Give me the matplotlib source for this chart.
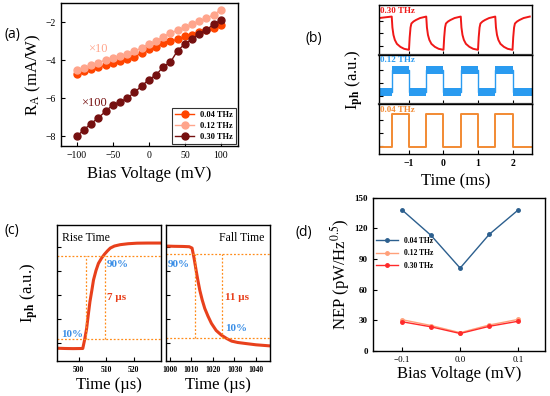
import numpy as np
import matplotlib
matplotlib.use("Agg")
import matplotlib.pyplot as plt

plt.rcParams["font.family"] = ["Liberation Serif", "DejaVu Serif"]
plt.rcParams["mathtext.fontset"] = "stix"

# ---- (a) responsivity vs bias ----
bias_a = [-100, -90, -80, -70, -60, -50, -40, -30, -20, -10, 0,
          10, 20, 30, 40, 50, 60, 70, 80, 90, 100]
ra_004 = [-4.72, -4.58, -4.47, -4.37, -4.26, -4.15, -4.06, -3.96, -3.85, -3.6, -3.42,
          -3.3, -3.08, -3.0, -2.9, -2.75, -2.65, -2.52, -2.42, -2.3, -2.16]
ra_012 = [-4.52, -4.4, -4.27, -4.13, -3.98, -3.87, -3.77, -3.66, -3.52, -3.36, -3.14,
          -3.0, -2.76, -2.57, -2.42, -2.26, -2.11, -1.96, -1.8, -1.6, -1.35]
ra_030 = [-8.0, -7.65, -7.33, -7.02, -6.69, -6.34, -6.2, -5.99, -5.69, -5.36, -5.02,
          -4.78, -4.34, -4.1, -3.49, -3.15, -2.89, -2.6, -2.42, -2.09, -1.91]
freq_labels = ["0.04 THz", "0.12 THz", "0.30 THz"]

# ---- (b) time traces (normalized) ----
b_rise_times = [-1.5, -0.5, 0.5, 1.5]
b_fall_times = [-1.0, 0.0, 1.0, 2.0]
b012_levels = [0.25, 0.70]
b004_levels = [0.14, 0.80]
# one slow period of the 0.30 THz trace
red_fall_dt = [0.0, 0.02, 0.05, 0.09, 0.15, 0.25, 0.36, 0.5]
red_fall_y = [0.77, 0.55, 0.4, 0.3, 0.22, 0.16, 0.12, 0.1]
red_rise_dt = [0.0, 0.02, 0.045, 0.07, 0.13, 0.2, 0.32, 0.5]
red_rise_y = [0.1, 0.35, 0.55, 0.63, 0.67, 0.7, 0.74, 0.77]
red_fall_times = [-1.5, -0.5, 0.5, 1.5]

# ---- (c) rise / fall ----
rise_t = [492, 495, 498, 501.5, 502.2, 502.9, 503.5, 504.1, 504.8, 505.4, 506.3,
          507.2, 508.3, 509.4, 510.5, 511.5, 513, 515.1, 518, 521.2, 525, 530]
rise_y = [0.095, 0.093, 0.092, 0.093, 0.16, 0.24, 0.34, 0.436, 0.52, 0.596, 0.665,
          0.718, 0.755, 0.785, 0.81, 0.83, 0.845, 0.855, 0.862, 0.866, 0.867, 0.867]
fall_t = [998, 1002, 1006, 1009, 1010.3, 1011.3, 1012.3, 1013.1, 1013.9, 1015,
          1016.2, 1017.7, 1019.3, 1021.5, 1024, 1026.5, 1028.7, 1031.5, 1034.9, 1040, 1046.5]
fall_y = [0.845, 0.843, 0.842, 0.84, 0.83, 0.75, 0.656, 0.585, 0.52, 0.45,
          0.387, 0.33, 0.277, 0.225, 0.19, 0.165, 0.147, 0.137, 0.13, 0.12, 0.112]
rise_marks = [502.6, 509.4]
fall_marks = [1011.5, 1024.0]
rise_levels = [0.162, 0.775]
fall_levels = [0.171, 0.785]

# ---- (d) NEP ----
bias_d = [-0.1, -0.05, 0.0, 0.05, 0.1]
nep_004 = [138, 113, 81, 114, 138]
nep_012 = [30.5, 24.8, 17.8, 25.3, 30.8]
nep_030 = [28.5, 23.5, 17.0, 24.0, 29.0]

fig = plt.figure(figsize=(5.5, 3.96), dpi=100)


def style(ax, size=7, bold=False):
    ax.tick_params(direction="in", labelsize=size, length=3, width=0.8)
    for s in ax.spines.values():
        s.set_linewidth(1.0)
    if bold:
        for lab in ax.get_xticklabels() + ax.get_yticklabels():
            lab.set_fontweight("bold")


# (a)
ax = fig.add_axes([0.111, 0.631, 0.322, 0.361])
c_a = ["#FF4500", "#FFA58C", "#751010"]
for y, c, lab in zip([ra_004, ra_012, ra_030], c_a, freq_labels):
    ax.plot(bias_a, y, "-o", color=c, ms=5, lw=1.0, label=lab)
ax.set_xlim(-122, 124)
ax.set_ylim(-8.52, -1.0)
ax.set_xticks([-100, -50, 0, 50, 100])
ax.set_yticks([-8, -6, -4, -2])
ax.set_xlabel("Bias Voltage (mV)", fontsize=12, labelpad=4)
ax.set_ylabel(r"R$_\mathregular{A}$ (mA/W)", fontsize=12, labelpad=2)
ax.text(-84, -3.4, "×10", color="#FFA58C", fontsize=9, va="center")
ax.text(-94, -6.25, "×100", color="#751010", fontsize=9, va="center")
leg = ax.legend(loc="lower right", prop={"weight": "bold", "size": 6},
                frameon=True, fancybox=False, edgecolor="black", handlelength=2.2,
                borderpad=0.4, labelspacing=0.35, borderaxespad=0.2)
leg.get_frame().set_linewidth(0.8)
style(ax, 7)

# (b)
b_h = (0.987 - 0.611) / 3
bx = [fig.add_axes([0.689, 0.611 + (2 - i) * b_h, 0.278, b_h]) for i in range(3)]
xl = (-1.87, 2.56)


def square(levels):
    xs, ys = [xl[0]], [levels[0]]
    for r, f in zip(b_rise_times, b_fall_times):
        xs += [r, r, f, f]
        ys += [levels[0], levels[1], levels[1], levels[0]]
    xs.append(xl[1])
    ys.append(levels[0])
    return np.array(xs), np.array(ys)


# 0.30 THz
xs, ys = [xl[0]], [red_rise_y[-2]]
for tf in red_fall_times:
    xs += [tf + d for d in red_fall_dt]
    ys += red_fall_y
    xs += [tf + 0.5 + d for d in red_rise_dt]
    ys += red_rise_y
xs = np.array(xs)
ys = np.array(ys)
keep = xs <= xl[1]
bx[0].plot(xs[keep], ys[keep], color="#F01818", lw=1.4)
# 0.12 THz
xs, ys = square(b012_levels)
bx[1].fill_between(xs, ys - 0.08, ys + 0.08, color="#2A9BF0", lw=0)
bx[1].plot(xs, ys, color="#2A9BF0", lw=1.0)
# 0.04 THz
xs, ys = square(b004_levels)
bx[2].plot(xs, ys, color="#F28A33", lw=1.4)

b_cols = ["#F01818", "#2A9BF0", "#F28A33"]
b_names = ["0.30 THz", "0.12 THz", "0.04 THz"]
for i, a in enumerate(bx):
    a.set_xlim(*xl)
    a.set_ylim(0, 1)
    a.set_yticks([0.17, 0.43, 0.69])
    a.set_yticklabels([])
    a.set_xticks([-1, 0, 1, 2])
    a.text(0.01, 0.97, b_names[i], transform=a.transAxes, color=b_cols[i],
           fontsize=6.5, fontweight="bold", va="top")
    style(a, 7, bold=True)
    if i < 2:
        a.set_xticklabels([])
        a.spines["bottom"].set_linewidth(1.6)
        a.spines["bottom"].set_color("#444444")
bx[2].set_xticklabels(["−1", "0", "1", "2"], fontweight="bold")
bx[2].set_xlabel("Time (ms)", fontsize=12, labelpad=4)
bx[1].set_ylabel(r"I$_{\mathbf{ph}}$ (a.u.)", fontsize=12, labelpad=6)

# (c)
cr = fig.add_axes([0.103, 0.088, 0.190, 0.344])
cf = fig.add_axes([0.301, 0.088, 0.190, 0.344])
dot = dict(color="#FF8C1A", lw=0.9, ls=(0, (1.5, 1.5)))
cr.plot(rise_t, rise_y, color="#E8401C", lw=2.2)
cf.plot(fall_t, fall_y, color="#E8401C", lw=2.2)
for a, lv, mk in [(cr, rise_levels, rise_marks), (cf, fall_levels, fall_marks)]:
    for v in lv:
        a.axhline(v, **dot)
    for m in mk:
        a.plot([m, m], lv, **dot)
    a.set_ylim(0, 1)
    a.set_yticks([0.135, 0.31, 0.485, 0.66, 0.835])
    a.set_yticklabels([])
    a.set_xlabel("Time (µs)", fontsize=12, labelpad=2)
cr.set_xlim(492, 530)
cr.set_xticks([500, 510, 520])
cf.set_xlim(998, 1046.5)
cf.set_xticks([1000, 1010, 1020, 1030, 1040])
style(cr, 5.5, bold=True)
style(cf, 5.5, bold=True)
cr.set_ylabel(r"I$_{\mathbf{ph}}$ (a.u.)", fontsize=12, labelpad=8)
cr.text(0.05, 0.95, "Rise Time", transform=cr.transAxes, fontsize=8.5, va="top")
cf.text(0.95, 0.95, "Fall Time", transform=cf.transAxes, fontsize=8.5, va="top", ha="right")
blue = "#3A8EE6"
red = "#E8401C"
cr.text(510.2, 0.69, "90%", color=blue, fontsize=8, fontweight="bold")
cr.text(493.5, 0.18, "10%", color=blue, fontsize=8, fontweight="bold")
cr.text(510.3, 0.45, "7 µs", color=red, fontsize=8, fontweight="bold")
cf.text(998.8, 0.69, "90%", color=blue, fontsize=8, fontweight="bold")
cf.text(1025.5, 0.45, "11 µs", color=red, fontsize=8, fontweight="bold")
cf.text(1025.5, 0.22, "10%", color=blue, fontsize=8, fontweight="bold")

# (d)
ad = fig.add_axes([0.678, 0.114, 0.313, 0.387])
c_d = ["#2C5F8E", "#FFA07A", "#FF2A2A"]
for y, c, lab in zip([nep_004, nep_012, nep_030], c_d, freq_labels):
    ad.plot(bias_d, y, "-o", color=c, ms=2.5, lw=1.0, label=lab)
ad.set_xlim(-0.15, 0.146)
ad.set_ylim(0, 150)
ad.set_xticks([-0.1, 0.0, 0.1])
ad.set_yticks([0, 30, 60, 90, 120, 150])
ad.set_xlabel("Bias Voltage (mV)", fontsize=12, labelpad=2)
ad.set_ylabel(r"NEP (pW/Hz$^{0.5}$)", fontsize=12, labelpad=2)
ad.legend(loc="upper left", bbox_to_anchor=(-0.02, 0.79), frameon=False,
          prop={"weight": "bold", "size": 5.5}, handlelength=2.8, labelspacing=0.6)
style(ad, 6.5)
for lab in ad.get_yticklabels():
    lab.set_fontweight("bold")

# panel letters
for x, y, s in [(0.008, 0.905, "(a)"), (0.555, 0.895, "(b)"),
                (0.008, 0.41, "(c)"), (0.537, 0.405, "(d)")]:
    fig.text(x, y, s, fontsize=10, family=["Open Sans", "DejaVu Sans"])

fig.savefig("out.png", dpi=100)
